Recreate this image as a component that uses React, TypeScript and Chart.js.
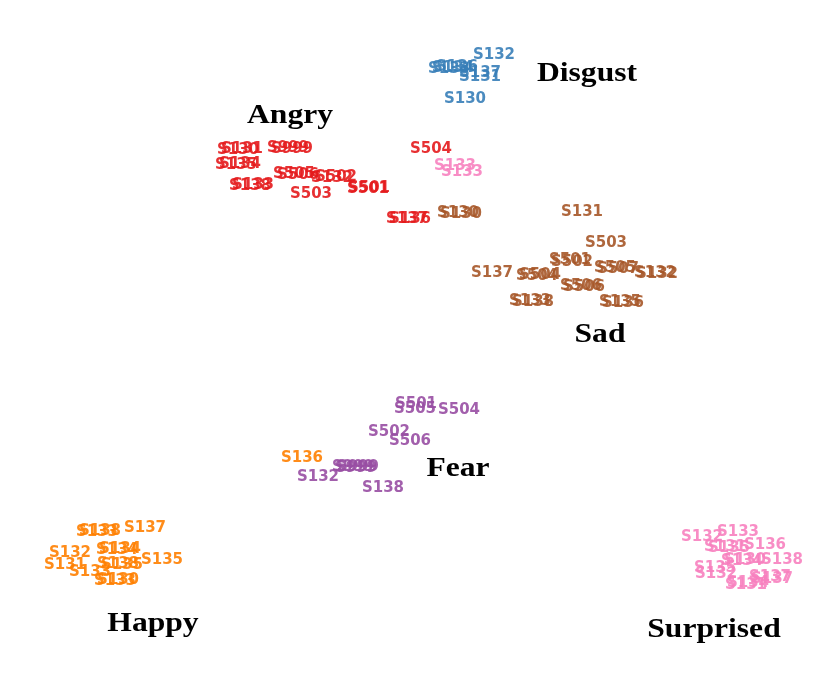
import React, { useEffect, useRef } from "react";
import { Chart, registerables } from "chart.js";

Chart.register(...registerables);

// Embedding coordinates (t-SNE style units) and sample names per emotion
const disgustNames = ["S132", "S131", "S137", "S134", "S133", "S136", "S130"];
const disgustX = [7.6, 6.2, 6.2, 3.5, 3.1, 3.9, 4.7];
const disgustY = [28.6, 26.4, 26.8, 27.3, 27.2, 27.4, 24.2];

const angryNames = ["S130", "S131", "S999", "S999", "S134", "S135", "S506", "S505", "S502", "S132", "S133", "S138", "S503", "S501", "S501", "S504", "S136", "S137"];
const angryX = [-18.0, -17.6, -13.0, -12.6, -17.8, -18.2, -12.0, -12.4, -8.2, -8.6, -16.5, -16.8, -10.7, -5.0, -4.9, 1.3, -0.8, -1.1];
const angryY = [19.1, 19.2, 19.3, 19.2, 17.7, 17.6, 16.6, 16.7, 16.4, 16.3, 15.6, 15.5, 14.7, 15.2, 15.3, 19.2, 12.2, 12.2];

const sadNames = ["S130", "S130", "S131", "S503", "S501", "S502", "S505", "S507", "S132", "S132", "S137", "S504", "S504", "S506", "S506", "S138", "S133", "S136", "S135"];
const sadX = [4.3, 4.0, 16.4, 18.8, 15.2, 15.4, 19.7, 20.0, 23.7, 23.9, 7.4, 12.2, 11.9, 16.3, 16.6, 11.5, 11.2, 20.5, 20.2];
const sadY = [12.7, 12.8, 12.9, 9.8, 8.1, 7.9, 7.3, 7.2, 6.8, 6.7, 6.8, 6.6, 6.5, 5.5, 5.4, 3.9, 4.0, 3.8, 3.9];

const fearNames = ["S501", "S505", "S504", "S502", "S506", "S132", "S999", "S999", "S999", "S138"];
const fearX = [-0.2, -0.3, 4.1, -2.9, -0.8, -10.0, -6.5, -6.2, -6.0, -3.5];
const fearY = [-6.3, -6.8, -6.9, -9.1, -10.0, -13.6, -12.6, -12.7, -12.6, -14.7];

const happyNames = ["S136", "S133", "S138", "S137", "S134", "S134", "S132", "S131", "S135", "S135", "S138", "S133", "S130", "S133"];
const happyX = [-11.6, -32.1, -31.8, -27.3, -30.1, -29.8, -34.8, -35.3, -25.6, -29.6, -30.0, -32.8, -30.0, -30.3];
const happyY = [-11.7, -19.1, -19.0, -18.7, -20.9, -20.8, -21.2, -22.4, -21.9, -22.4, -22.3, -23.1, -23.9, -24.0];

const surprisedNames = ["S133", "S133", "S132", "S133", "S131", "S135", "S136", "S130", "S134", "S138", "S135", "S132", "S137", "S137", "S131", "S134"];
const surprisedX = [3.7, 4.4, 28.4, 32.0, 30.7, 31.1, 34.7, 32.7, 32.4, 36.4, 29.7, 29.8, 35.2, 35.4, 32.8, 33.0];
const surprisedY = [17.5, 16.9, -19.6, -19.1, -20.6, -20.7, -20.4, -21.9, -22.0, -21.9, -22.7, -23.3, -23.6, -23.8, -24.4, -24.2];

const clusterNames = ["Disgust", "Angry", "Sad", "Fear", "Happy", "Surprised"];
const clusterX = [16.9, -12.8, 18.2, 4.0, -26.5, 29.6];
const clusterY = [26.7, 22.5, 0.6, -12.8, -28.3, -28.9];

const groups = [
  { names: angryNames, xs: angryX, ys: angryY, color: "rgba(228,26,28,0.9)" },
  { names: disgustNames, xs: disgustX, ys: disgustY, color: "rgba(55,126,184,0.9)" },
  { names: sadNames, xs: sadX, ys: sadY, color: "rgba(166,86,40,0.9)" },
  { names: fearNames, xs: fearX, ys: fearY, color: "rgba(152,78,163,0.9)" },
  { names: happyNames, xs: happyX, ys: happyY, color: "rgba(255,127,0,0.9)" },
  { names: surprisedNames, xs: surprisedX, ys: surprisedY, color: "rgba(247,129,191,0.9)" },
];

const textPlugin = {
  id: "textLabels",
  afterDatasetsDraw(chart: any) {
    const ctx = chart.ctx;
    chart.data.datasets.forEach((ds: any, i: number) => {
      const meta = chart.getDatasetMeta(i);
      meta.data.forEach((el: any, j: number) => {
        ctx.save();
        ctx.textAlign = "center";
        ctx.textBaseline = "middle";
        ctx.font = ds.labelFont;
        ctx.fillStyle = ds.labelColor;
        ctx.translate(el.x, el.y);
        ctx.scale(ds.stretchX || 1, 1);
        ctx.fillText(ds.names[j], 0, 0);
        ctx.restore();
      });
    });
  },
};

export default function App() {
  const ref = useRef<HTMLCanvasElement | null>(null);
  useEffect(() => {
    if (!ref.current) return;
    const datasets: any[] = groups.map((g) => ({
      data: g.xs.map((x, i) => ({ x, y: g.ys[i] })),
      names: g.names,
      labelColor: g.color,
      labelFont: "bold 15px 'DejaVu Sans'",
      stretchX: 1,
      pointRadius: 0,
      pointHoverRadius: 0,
    }));
    datasets.push({
      data: clusterX.map((x, i) => ({ x, y: clusterY[i] })),
      names: clusterNames,
      labelColor: "#000000",
      labelFont: "bold 27px 'Liberation Serif'",
      stretchX: 1.17,
      pointRadius: 0,
      pointHoverRadius: 0,
    });
    const chart = new Chart(ref.current, {
      type: "scatter",
      data: { datasets },
      options: {
        animation: false,
        responsive: false,
        maintainAspectRatio: false,
        layout: { padding: 0 },
        plugins: { legend: { display: false }, tooltip: { enabled: false } },
        scales: {
          x: { type: "linear", min: -41.8, max: 41.8, display: false },
          y: { type: "linear", min: -34.1, max: 34.1, display: false },
        },
        events: [],
      },
      plugins: [textPlugin],
    });
    return () => chart.destroy();
  }, []);
  return (
    <div style={{ position: "absolute", left: 0, top: 0, width: 836, height: 682, background: "#fff" }}>
      <canvas ref={ref} width={836} height={682} style={{ display: "block" }} />
    </div>
  );
}
